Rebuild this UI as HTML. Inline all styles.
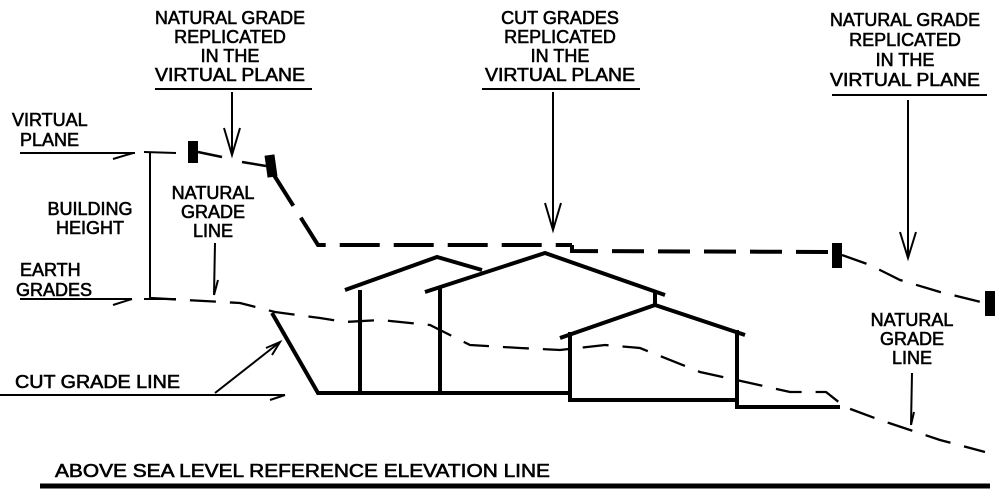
<!DOCTYPE html>
<html><head><style>
html,body{margin:0;padding:0;background:#fff;}
svg{display:block;}
text{font-family:"Liberation Sans",sans-serif;font-size:18px;fill:#000;stroke:#000;stroke-width:0.6;}
</style></head><body>
<svg width="1004" height="498" viewBox="0 0 1004 498" xmlns="http://www.w3.org/2000/svg">
<g text-anchor="middle">
<text x="230" y="24" textLength="150" lengthAdjust="spacingAndGlyphs">NATURAL GRADE</text>
<text x="230" y="43">REPLICATED</text>
<text x="230" y="62">IN THE</text>
<text x="230" y="81" textLength="150" lengthAdjust="spacingAndGlyphs">VIRTUAL PLANE</text>
<text x="560" y="24">CUT GRADES</text>
<text x="560" y="43">REPLICATED</text>
<text x="560" y="62">IN THE</text>
<text x="560" y="81" textLength="150" lengthAdjust="spacingAndGlyphs">VIRTUAL PLANE</text>
<text x="905" y="26" textLength="150" lengthAdjust="spacingAndGlyphs">NATURAL GRADE</text>
<text x="905" y="46">REPLICATED</text>
<text x="905" y="66">IN THE</text>
<text x="905" y="86" textLength="150" lengthAdjust="spacingAndGlyphs">VIRTUAL PLANE</text>
<text x="213" y="199">NATURAL</text>
<text x="213" y="218">GRADE</text>
<text x="213" y="237">LINE</text>
<text x="912" y="326">NATURAL</text>
<text x="912" y="345">GRADE</text>
<text x="912" y="364">LINE</text>
<text x="90" y="215">BUILDING</text>
<text x="90" y="234">HEIGHT</text>
</g>
<text x="12" y="126">VIRTUAL</text>
<text x="20" y="146">PLANE</text>
<text x="20" y="276">EARTH</text>
<text x="16" y="296">GRADES</text>
<text x="15" y="388" textLength="165" lengthAdjust="spacingAndGlyphs">CUT GRADE LINE</text>
<text x="55" y="477" textLength="495" lengthAdjust="spacingAndGlyphs">ABOVE SEA LEVEL REFERENCE ELEVATION LINE</text>
<g stroke="#000" fill="none" stroke-width="2">
<line x1="155" y1="89" x2="312" y2="89"/>
<line x1="482" y1="89" x2="640" y2="89"/>
<line x1="832" y1="95" x2="987" y2="95"/>
<line x1="232" y1="92" x2="232" y2="155"/><polyline points="224,128 232,155 240,128"/>
<line x1="553" y1="92" x2="553" y2="230"/><polyline points="545,203 553,230 561,203"/>
<line x1="908" y1="100" x2="908" y2="258"/><polyline points="900,232 908,258 916,232"/>
<line x1="20" y1="153" x2="135" y2="153"/><line x1="113" y1="159" x2="133" y2="153"/>
<line x1="20" y1="299" x2="132" y2="299"/><line x1="113" y1="305" x2="132" y2="299"/>
<line x1="150" y1="153" x2="150" y2="299"/><line x1="144" y1="152" x2="176" y2="153"/><line x1="144" y1="299" x2="176" y2="299"/>
<line x1="215" y1="243" x2="214" y2="295"/><line x1="218" y1="280" x2="214" y2="295"/>
<line x1="912" y1="373" x2="911" y2="425"/><line x1="914" y1="412" x2="911" y2="425"/>
<line x1="0" y1="395" x2="285" y2="395"/><line x1="270" y1="400" x2="285" y2="395"/>
<line x1="215" y1="393" x2="280" y2="342"/><polyline points="266,348 280,342 272,355"/>
<polyline stroke-dasharray="26,14" stroke-width="2.3" points="150,298 240,303 275,312 320,318 345,322 380,320 430,325 470,345 520,348 560,350 605,345 640,348 700,372 750,383 790,392 826,392 845,407 880,420 940,440 985,452"/>
<polyline stroke-dasharray="26,14" stroke-width="2.3" points="842,255 870,265 900,280 940,292 985,303"/>
<line x1="198" y1="152" x2="222" y2="157" stroke-width="2.5"/><line x1="242" y1="162" x2="266" y2="166" stroke-width="2.5"/>
</g>
<g stroke="#000" fill="none" stroke-width="4">
<polyline stroke-dasharray="40,14" points="272,172 318,245 572,245"/>
<polyline stroke-dasharray="32,14" points="572,245 572,251 832,252"/>
<polyline points="272,313 318,393 570,393 570,400 737,400 737,407 840,407"/>
<polyline points="345,290 437,257 482,270"/>
<line x1="360" y1="290" x2="360" y2="393"/>
<polyline points="425,292 545,253 665,295"/>
<line x1="440" y1="287" x2="440" y2="393"/>
<line x1="655" y1="292" x2="655" y2="305"/>
<polyline points="560,338 655,305 745,335"/>
<line x1="570" y1="332" x2="570" y2="400"/>
<line x1="737" y1="330" x2="737" y2="407"/>
<line x1="40" y1="486" x2="990" y2="486" stroke-width="5"/>
</g>
<g fill="#000">
<rect x="188" y="141" width="10" height="22"/>
<rect x="266" y="155" width="10" height="22" transform="rotate(-8 271 166)"/>
<rect x="832" y="243" width="10" height="25"/>
<rect x="985" y="291" width="10" height="25"/>
</g>
</svg>
</body></html>
